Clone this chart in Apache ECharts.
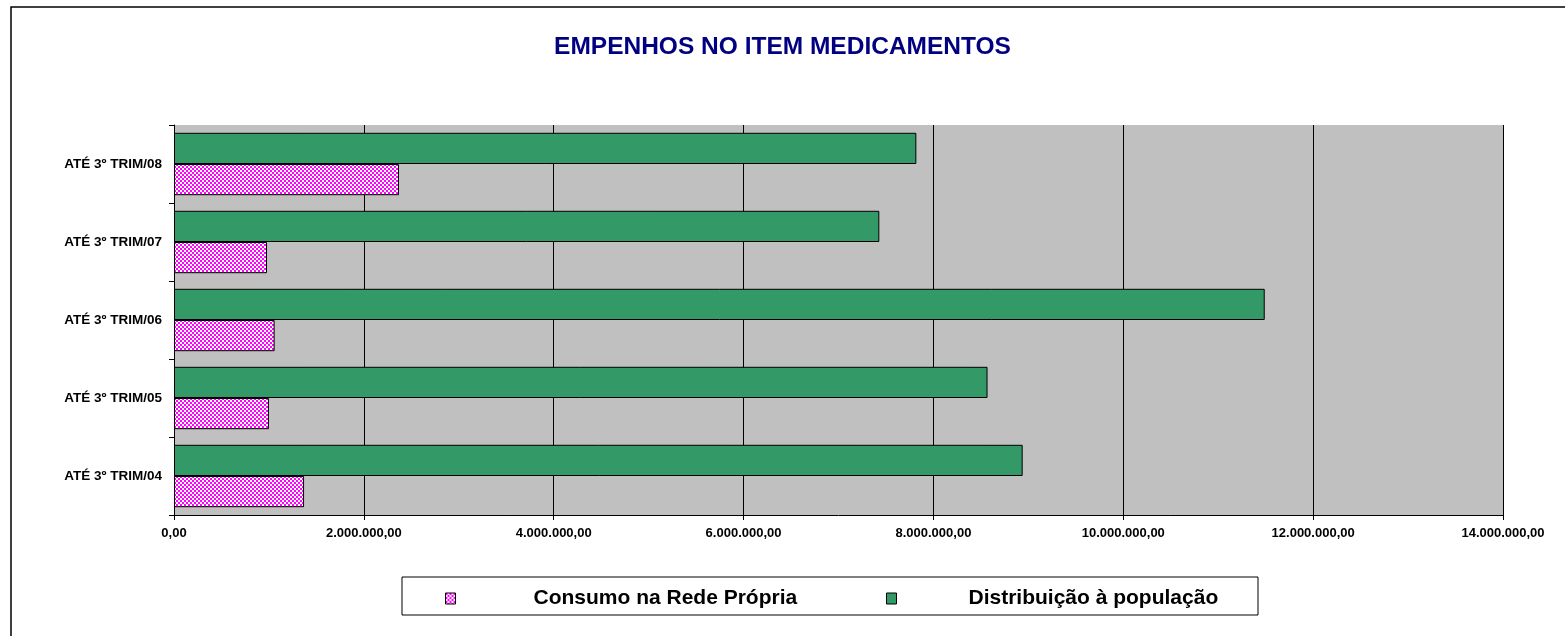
<!DOCTYPE html>
<html>
<head>
<meta charset="utf-8">
<script src="https://cdn.jsdelivr.net/npm/echarts@6/dist/echarts.min.js"></script>
<style>
  html, body { margin: 0; padding: 0; background: #fff; }
  #chart { width: 1565px; height: 636px; }
</style>
</head>
<body>
<div id="chart"></div>
<script>
// dados
const categorias = ['ATÉ 3º TRIM/04', 'ATÉ 3º TRIM/05', 'ATÉ 3º TRIM/06', 'ATÉ 3º TRIM/07', 'ATÉ 3º TRIM/08']
const consumoRedePropria = [1370000, 1000000, 1060000, 980000, 2370000]
const distribuicaoPopulacao = [8940000, 8570000, 11490000, 7430000, 7820000]
const nomesSeries = ['Consumo na Rede Própria', 'Distribuição à população']

const FONT = 'Arial, "Liberation Sans", sans-serif'

// padrão xadrez magenta/branco
const makeChecker = () => {
  const c = document.createElement('canvas')
  c.width = 4
  c.height = 4
  const ctx = c.getContext('2d')
  ctx.fillStyle = '#ffffff'
  ctx.fillRect(0, 0, 4, 4)
  ctx.fillStyle = '#ff00ff'
  ctx.fillRect(0, 0, 2, 2)
  ctx.fillRect(2, 2, 2, 2)
  return c
}
const checker = { image: makeChecker(), repeat: 'repeat' }

const fmtBR = (v) => {
  const parts = v.toFixed(2).split('.')
  return parts[0].replace(/\B(?=(\d{3})+(?!\d))/g, '.') + ',' + parts[1]
}

const chart = echarts.init(document.getElementById('chart'))

// uma legenda por série, para posicionar como no original
const makeLegend = (name, left, gap) => ({
  left: left,
  top: 583,
  icon: 'rect',
  itemWidth: 10,
  itemHeight: 11,
  itemStyle: { borderColor: '#000', borderWidth: 1 },
  data: [name],
  textStyle: {
    rich: {
      t: { fontFamily: FONT, fontWeight: 'bold', fontSize: 21, lineHeight: 22, color: '#000', padding: [0, 0, 0, gap] }
    }
  },
  formatter: (n) => '{t|' + n + '}'
})

chart.setOption({
  animation: false,
  title: {
    text: 'EMPENHOS NO ITEM MEDICAMENTOS',
    left: 'center',
    top: 30,
    textStyle: { fontFamily: FONT, fontWeight: 'bold', fontSize: 24.5, color: '#000080' }
  },
  graphic: [
    { type: 'rect', shape: { x: 11, y: 7, width: 1600, height: 700 }, style: { fill: 'none', stroke: '#000', lineWidth: 1.5 }, silent: true },
    { type: 'rect', shape: { x: 402, y: 577, width: 856, height: 38 }, style: { fill: '#fff', stroke: '#000', lineWidth: 1 }, z: -1, silent: true }
  ],
  legend: [
    makeLegend(nomesSeries[0], 440, 73),
    makeLegend(nomesSeries[1], 881, 67)
  ],
  grid: {
    left: 174,
    right: 62,
    top: 125,
    bottom: 121,
    show: true,
    backgroundColor: '#c0c0c0',
    borderWidth: 0
  },
  xAxis: {
    type: 'value',
    min: 0,
    max: 14000000,
    interval: 2000000,
    axisLine: { show: true, lineStyle: { color: '#000', width: 1 } },
    axisTick: { show: true, length: 5, lineStyle: { color: '#000' } },
    splitLine: { show: true, lineStyle: { color: '#000', width: 1 } },
    axisLabel: {
      margin: 12,
      fontFamily: FONT,
      fontWeight: 'bold',
      fontSize: 13,
      color: '#000',
      formatter: fmtBR
    }
  },
  yAxis: {
    type: 'category',
    data: categorias,
    axisLine: { show: true, lineStyle: { color: '#000', width: 1 } },
    axisTick: { show: true, length: 5, lineStyle: { color: '#000' } },
    axisLabel: {
      margin: 12,
      fontFamily: FONT,
      fontWeight: 'bold',
      fontSize: 13.5,
      color: '#000'
    }
  },
  // a primeira série fica em cima dentro de cada categoria
  series: [
    {
      name: nomesSeries[1],
      type: 'bar',
      data: distribuicaoPopulacao,
      barGap: '0%',
      barCategoryGap: '20%',
      itemStyle: { color: '#339966', borderColor: '#000', borderWidth: 1 }
    },
    {
      name: nomesSeries[0],
      type: 'bar',
      data: consumoRedePropria,
      barGap: '0%',
      barCategoryGap: '20%',
      itemStyle: { color: checker, borderColor: '#000', borderWidth: 1 }
    }
  ]
})
</script>
</body>
</html>
